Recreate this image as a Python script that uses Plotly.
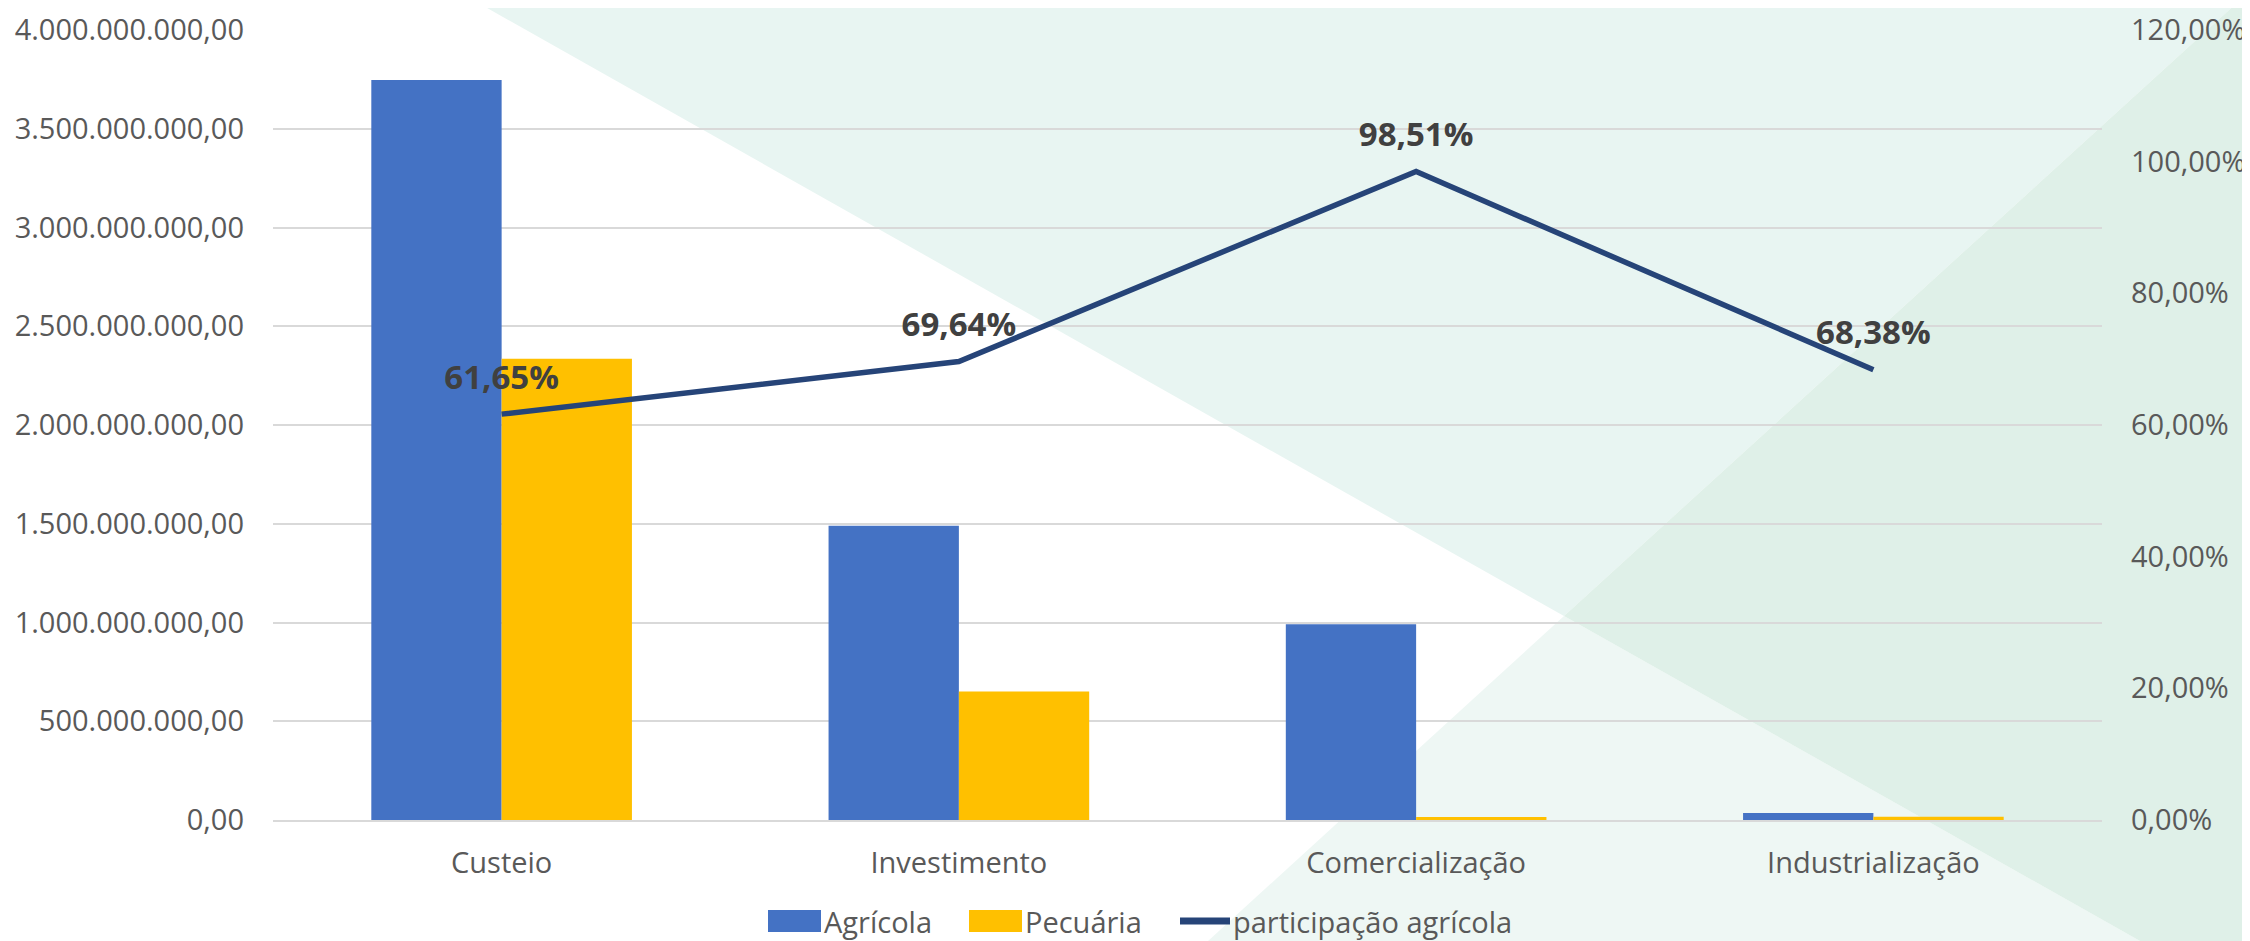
import plotly.graph_objects as go

# dados
categorias = ["Custeio", "Investimento", "Comercialização", "Industrialização"]
agricola = [3.747e9, 1.490e9, 0.991e9, 0.036e9]
pecuaria = [2.336e9, 0.651e9, 0.015e9, 0.0167e9]
participacao = [0.6165, 0.6964, 0.9851, 0.6838]

series_legenda = ["Agrícola", "Pecuária", "participação agrícola"]
cores = ["#4472C4", "#FFC000", "#264478"]

# a pagina desloca a figura 8px (margem do body)
OFF = 8
W, H = 2250 - OFF, 941 - OFF
L, R, T, B = 273 - OFF, 148, 30 - OFF, 121
PW, PH = W - L - R, H - T - B

FONT = "Open Sans, Lato, sans-serif"
TICK_COLOR = "#595959"


def px(x, y):
    """pixel da tela -> coordenadas paper"""
    return (x - OFF - L) / PW, (H - B - (y - OFF)) / PH


def poly_path(pts):
    p = [px(x, y) for x, y in pts]
    return "M " + " L ".join(f"{x:.5f},{y:.5f}" for x, y in p) + " Z"


# triangulos decorativos do fundo
fundo = [
    ([(473, 0), (2240, 0), (1564, 616)], "#E8F5F2"),
    ([(1564, 616), (2140, 941), (1208, 941)], "#EEF7F4"),
    ([(2240, 0), (2250, 0), (2250, 941), (2140, 941), (1564, 616)], "#DFF0E8"),
]

fig = go.Figure()

fig.add_trace(go.Bar(
    x=categorias, y=agricola, name=series_legenda[0],
    marker=dict(color=cores[0], line=dict(width=0)),
))
fig.add_trace(go.Bar(
    x=categorias, y=pecuaria, name=series_legenda[1],
    marker=dict(color=cores[1], line=dict(width=0)),
))
fig.add_trace(go.Scatter(
    x=categorias, y=participacao, name=series_legenda[2],
    yaxis="y2", mode="lines+markers+text",
    line=dict(color=cores[2], width=5.5),
    marker=dict(size=26, color="rgba(0,0,0,0)"),
    texttemplate="<b>%{y:.2%}</b>",
    textposition="top center",
    textfont=dict(family=FONT, size=33, color="#404040"),
    cliponaxis=False,
))

shapes = [
    dict(type="path", path=poly_path(pts), xref="paper", yref="paper",
         fillcolor=cor, line=dict(width=0), layer="below")
    for pts, cor in fundo
]

# legenda desenhada a mao (simbolos maiores como no original)
annotations = []
leg_y = 921
leg_items = [(768, 821, "box"), (969, 1022, "box"), (1180, 1230, "line")]
for (x0, x1, kind), nome, cor in zip(leg_items, series_legenda, cores):
    if kind == "box":
        a = px(x0, leg_y - 11)
        b = px(x1, leg_y + 11)
        shapes.append(dict(type="rect", xref="paper", yref="paper",
                           x0=a[0], y0=b[1], x1=b[0], y1=a[1],
                           fillcolor=cor, line=dict(width=0)))
    else:
        a = px(x0, leg_y)
        b = px(x1, leg_y)
        shapes.append(dict(type="line", xref="paper", yref="paper",
                           x0=a[0], y0=a[1], x1=b[0], y1=b[1],
                           line=dict(color=cor, width=7)))
    t = px(x1 + 1, leg_y)
    annotations.append(dict(text=nome, xref="paper", yref="paper",
                            x=t[0], y=t[1], xanchor="left", yanchor="middle",
                            showarrow=False,
                            font=dict(family=FONT, size=29, color=TICK_COLOR)))

fig.update_layout(
    width=W, height=H,
    margin=dict(l=L, r=R, t=T, b=B, autoexpand=False),
    paper_bgcolor="white",
    plot_bgcolor="rgba(0,0,0,0)",
    separators=",.",
    barmode="group",
    bargap=0.43,
    bargroupgap=0,
    font=dict(family=FONT, size=29, color=TICK_COLOR),
    shapes=shapes,
    annotations=annotations,
    showlegend=False,
    xaxis=dict(
        showgrid=False, showline=True, linecolor="#D9D9D9", linewidth=2,
        ticks="", ticklabelstandoff=16,
        tickfont=dict(family=FONT, size=29, color=TICK_COLOR),
    ),
    yaxis=dict(
        range=[0, 4e9], dtick=5e8, tickformat=",.2f",
        showgrid=True, gridcolor="#D9D9D9", gridwidth=2,
        zeroline=False, ticks="", ticklabelstandoff=28,
        ticklabeloverflow="allow",
        tickfont=dict(family=FONT, size=29, color=TICK_COLOR),
    ),
    yaxis2=dict(
        overlaying="y", side="right",
        range=[0, 1.2], dtick=0.2, tickformat=".2%",
        showgrid=False, zeroline=False, ticks="", ticklabelstandoff=28,
        ticklabeloverflow="allow",
        tickfont=dict(family=FONT, size=29, color=TICK_COLOR),
    ),
)

fig.write_html("out.html")
